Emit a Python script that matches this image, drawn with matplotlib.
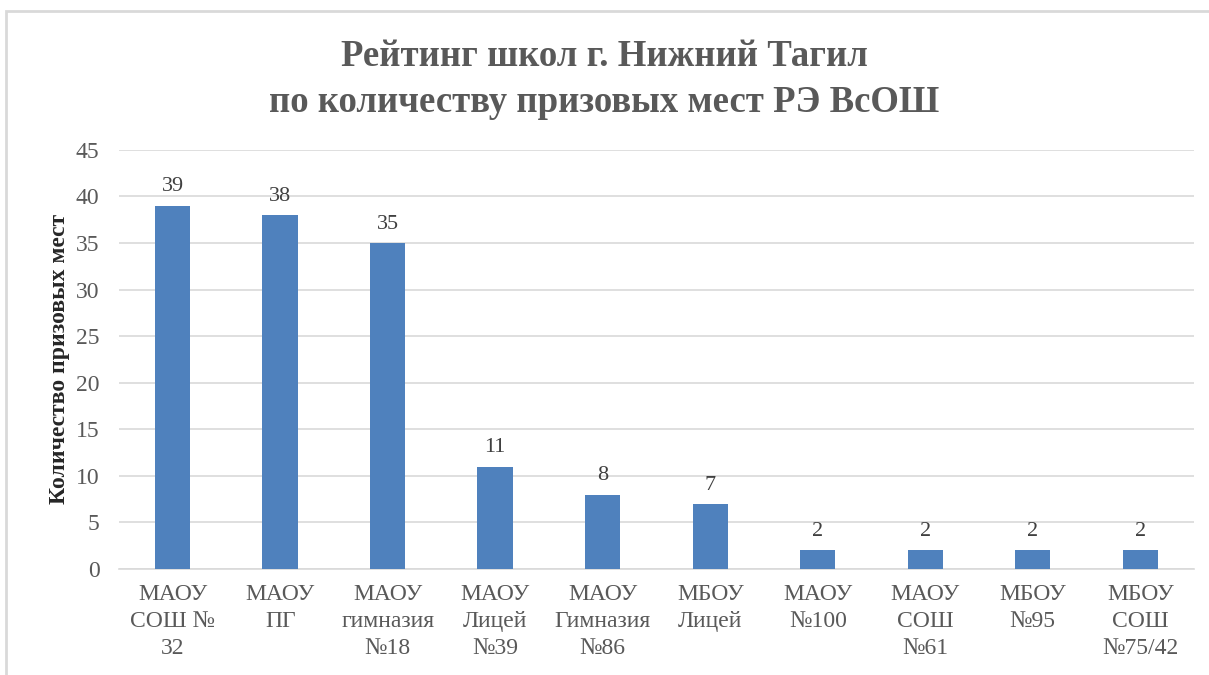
import matplotlib.pyplot as plt
from matplotlib.patches import Rectangle

# data
schools = ['МАОУ\nСОШ №\n32', 'МАОУ\nПГ', 'МАОУ\nгимназия\n№18', 'МАОУ\nЛицей\n№39',
           'МАОУ\nГимназия\n№86', 'МБОУ\nЛицей', 'МАОУ\n№100', 'МАОУ\nСОШ\n№61',
           'МБОУ\n№95', 'МБОУ\nСОШ\n№75/42']
places = [39, 38, 35, 11, 8, 7, 2, 2, 2, 2]
yticks = [0, 5, 10, 15, 20, 25, 30, 35, 40, 45]

plt.rcParams['font.family'] = ['Liberation Serif', 'DejaVu Serif']

fig = plt.figure(figsize=(12.09, 6.75), dpi=100)
ax = fig.add_axes([0.0984, 0.157, 0.8892, 0.621])

# outer frame of the chart
fig.patches.append(Rectangle((6 / 1209, -0.05), 1.2, 1 - 11 / 675 + 0.05,
                             transform=fig.transFigure, fill=False,
                             edgecolor='#D9D9D9', linewidth=2))

x = range(len(schools))
bars = ax.bar(x, places, width=0.33, color='#4F81BD', zorder=3)

for xi, v in zip(x, places):
    ax.text(xi, v + 1.0, str(v), ha='center', va='bottom', fontsize=16, color='#404040')

ax.set_xlim(-0.5, len(schools) - 0.5)
ax.set_ylim(0, 45)
ax.set_yticks(yticks)
ax.set_xticks(list(x))
ax.set_xticklabels(schools, fontsize=17, color='#595959', linespacing=1.35)
ax.tick_params(axis='y', labelsize=17, labelcolor='#595959', length=0, pad=14)
ax.tick_params(axis='x', length=0, pad=11)
ax.grid(axis='y', color='#D9D9D9', linewidth=1.2, zorder=0)

for s in ['top', 'right', 'left']:
    ax.spines[s].set_visible(False)
ax.spines['bottom'].set_color('#D9D9D9')
ax.spines['bottom'].set_linewidth(1.2)

ax.set_ylabel('Количество призовых мест', fontsize=17, fontweight='bold', color='#262626', labelpad=4)

fig.text(0.5, 0.882, 'Рейтинг школ г. Нижний Тагил\nпо количеству призовых мест РЭ ВсОШ',
         ha='center', va='center', fontsize=26.5, fontweight='bold', color='#595959',
         linespacing=1.42)

fig.savefig('out.png', dpi=100)
